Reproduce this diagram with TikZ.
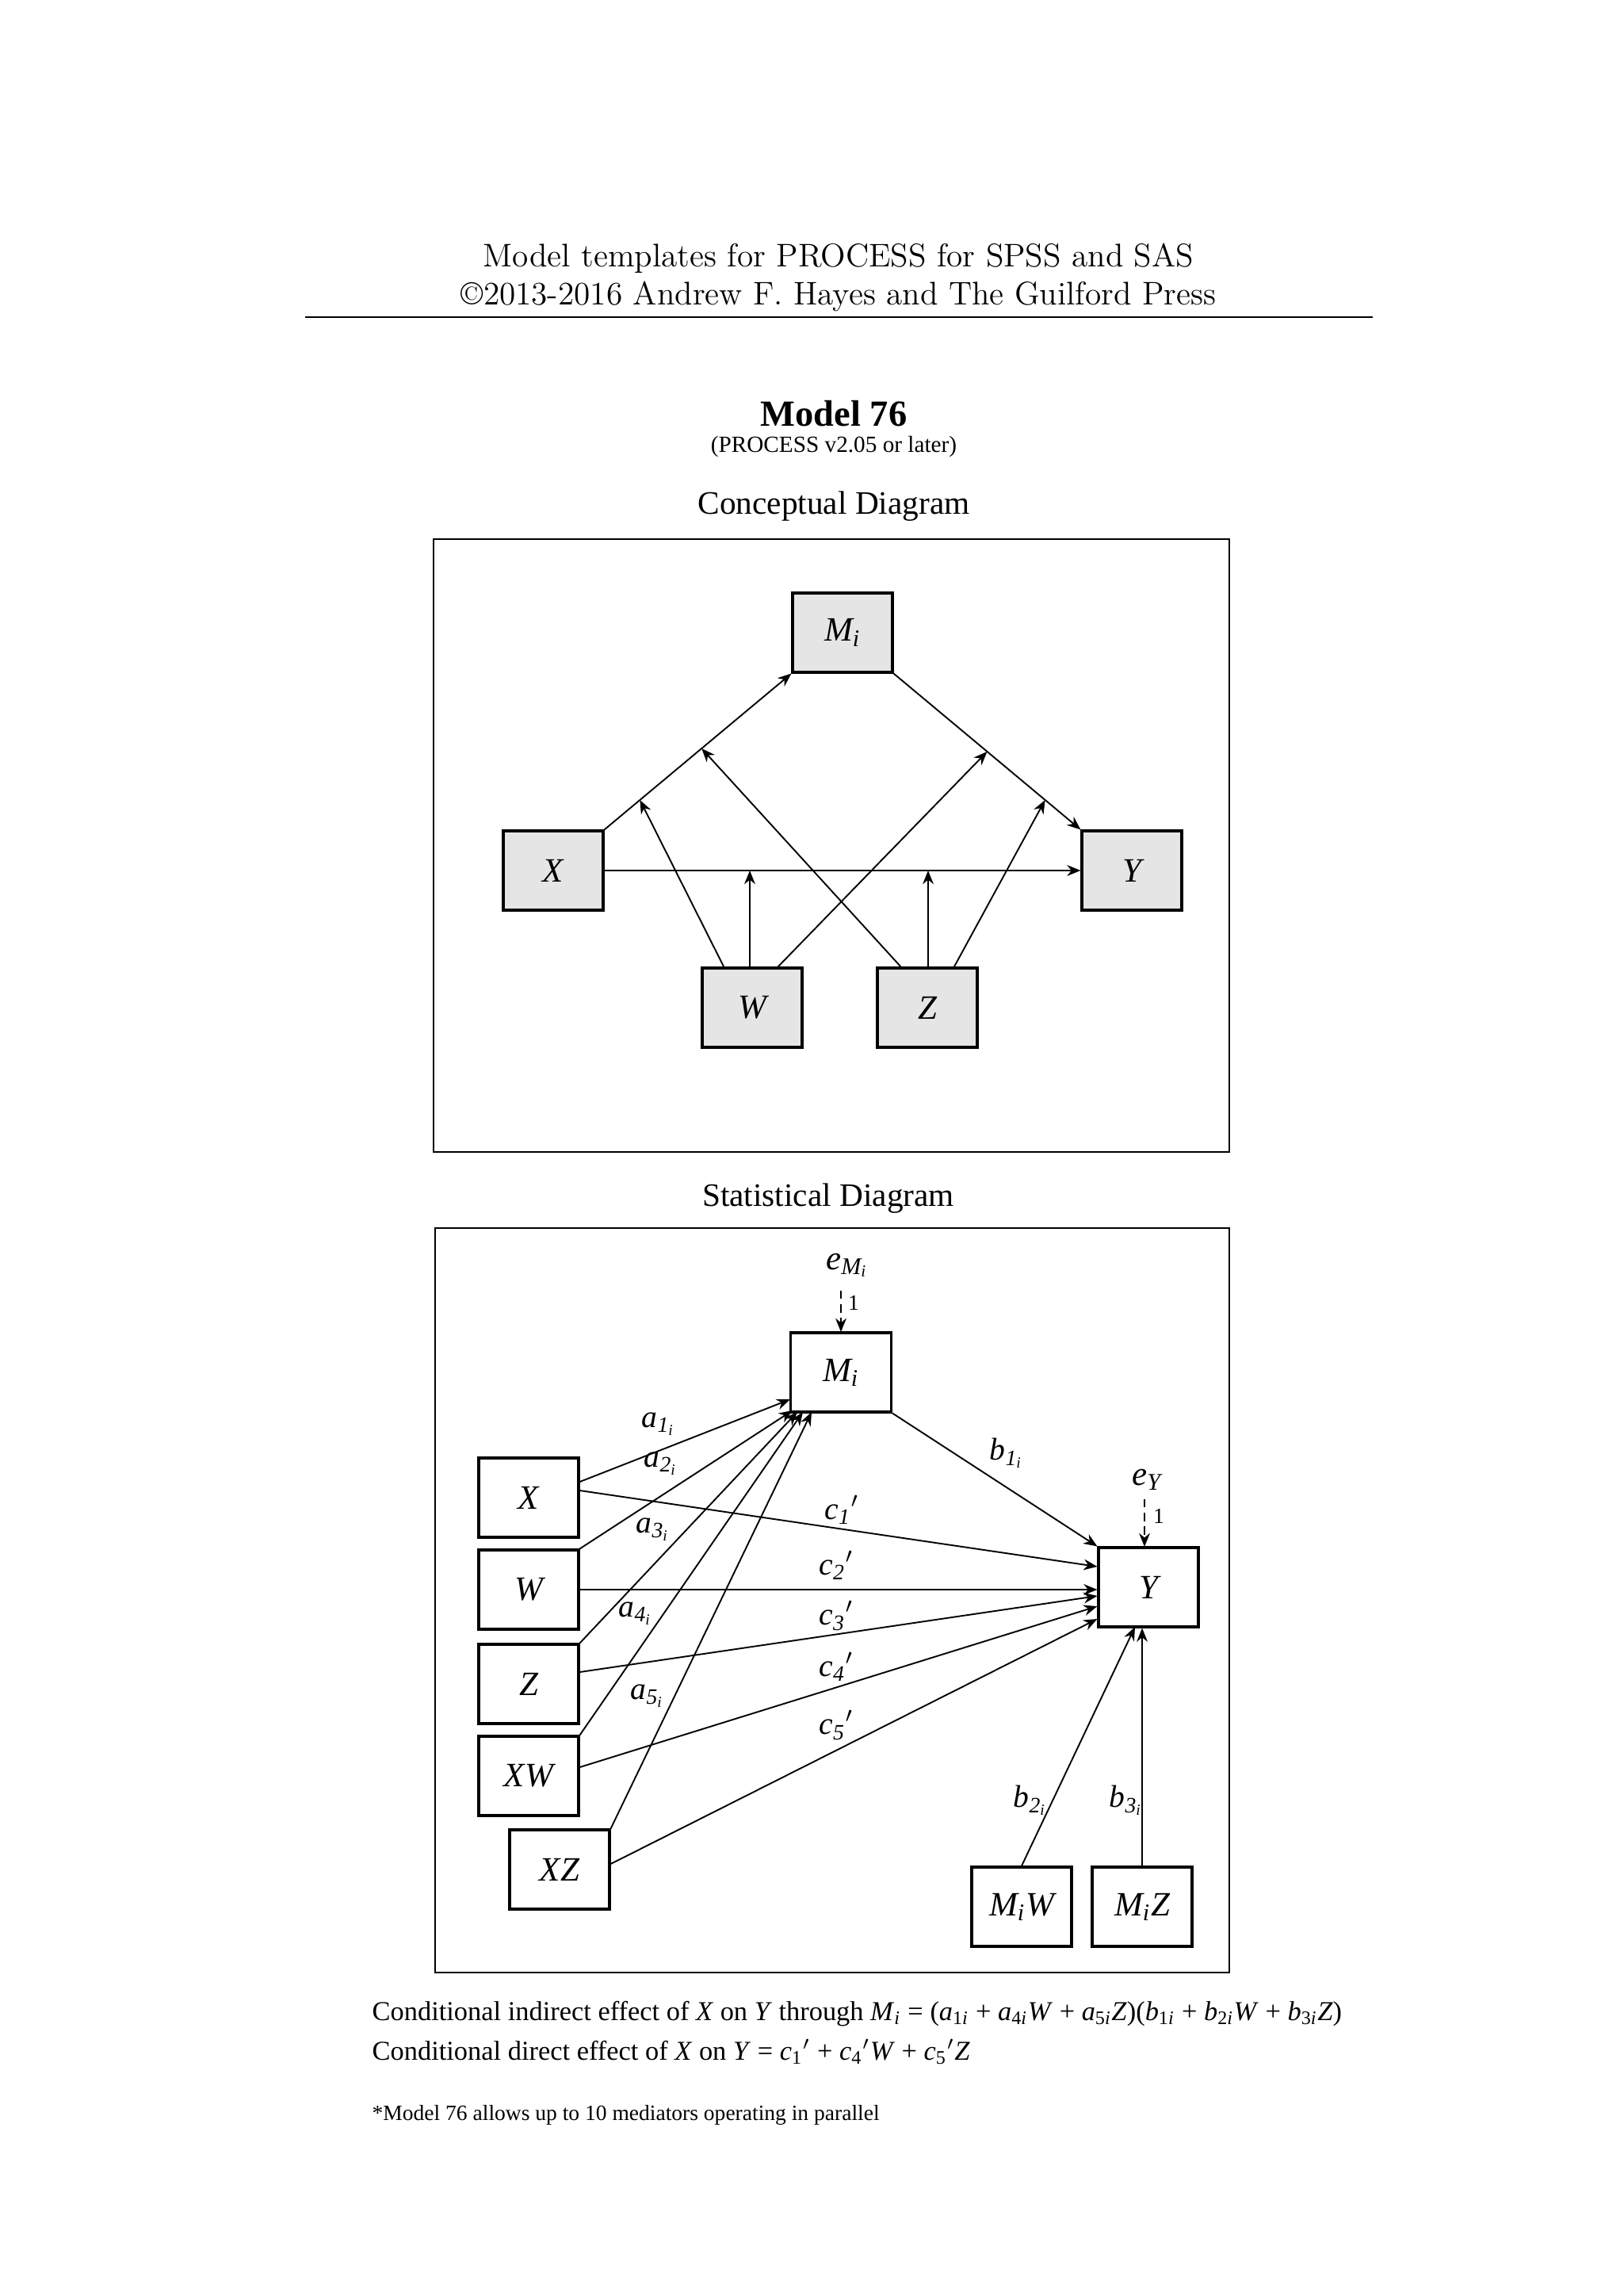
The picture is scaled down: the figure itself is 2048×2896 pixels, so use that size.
\documentclass[tikz,border=0pt]{standalone}
\usepackage{fontspec}
\newfontfamily\tms{Liberation Serif}
\usetikzlibrary{arrows.meta}
\newcommand{\iv}[1]{\textit{#1}}
\newcommand{\ssub}[1]{\textsubscript{#1}}
\begin{document}
\begin{tikzpicture}[x=0.2906pt,y=-0.2906pt,
  box/.style={draw,line width=0.9pt,minimum width=126*0.2906pt,minimum height=100*0.2906pt,inner sep=0pt,font=\tms\fontsize{12.5}{14}\selectfont\itshape},
  cbox/.style={box,fill=gray!20},
  arr/.style={line width=0.55pt,-{Stealth[length=5pt,width=4pt]}},
  lab/.style={font=\tms\fontsize{11.5}{13}\selectfont\itshape},
  dsh/.style={arr,dashed,dash pattern=on 3pt off 2pt}]
\useasboundingbox (0,0) rectangle (2048,2896);
% header
\node[font=\fontsize{12}{14}\selectfont] at (1058,326) {Model templates for PROCESS for SPSS and SAS};
\node[font=\fontsize{12}{14}\selectfont] at (1058,374) {\textcopyright 2013-2016 Andrew F. Hayes and The Guilford Press};
\draw[line width=0.5pt] (385,400) -- (1732,400);
\node[font=\tms\bfseries\fontsize{13.5}{15}\selectfont] at (1052,522) {Model 76};
\node[font=\tms\fontsize{8.5}{10}\selectfont] at (1052,563) {(PROCESS v2.05 or later)};
\node[font=\tms\fontsize{12}{14}\selectfont] at (1052,639) {Conceptual Diagram};
\draw[line width=0.6pt] (547,680) rectangle (1551,1453);
% conceptual
\node[cbox] (cM) at (1063,798) {M\ssub{i}};
\node[cbox] (cX) at (698,1098) {X};
\node[cbox] (cY) at (1428,1098) {Y};
\node[cbox] (cW) at (949,1271) {W};
\node[cbox] (cZ) at (1170,1271) {Z};
\draw[arr] (cX.north east) -- (cM.south west) coordinate[pos=0.19] (j1) coordinate[pos=0.52] (j2);
\draw[arr] (cM.south east) -- (cY.north west) coordinate[pos=0.50] (j3) coordinate[pos=0.81] (j4);
\draw[arr] (cX.east) -- (cY.west);
\coordinate (w1) at (914,1221);
\coordinate (w2) at (946,1221);
\coordinate (w3) at (980,1221);
\coordinate (z1) at (1138,1221);
\coordinate (z2) at (1171,1221);
\coordinate (z3) at (1203,1221);
\draw[arr] (w1) -- (j1);
\draw[arr] (w2) -- (w2 |- cX.east);
\draw[arr] (w3) -- (j3);
\draw[arr] (z1) -- (j2);
\draw[arr] (z2) -- (z2 |- cX.east);
\draw[arr] (z3) -- (j4);
% statistical
\node[font=\tms\fontsize{12}{14}\selectfont] at (1045,1512) {Statistical Diagram};
\draw[line width=0.6pt] (549,1549) rectangle (1551,2488);
\node[box,minimum width=127*0.2906pt] (M) at (1061,1731) {M\ssub{i}};
\node[box] (Y) at (1449,2002) {Y};
\node[box] (X) at (667,1889) {X};
\node[box] (W) at (667,2005) {W};
\node[box] (Z) at (667,2124) {Z};
\node[box] (XW) at (667,2240) {XW};
\node[box] (XZ) at (706,2358) {XZ};
\node[box] (MW) at (1289,2405) {M\ssub{i}W};
\node[box] (MZ) at (1441,2405) {M\ssub{i}Z};
\node[font=\tms\fontsize{12.5}{14}\selectfont\itshape] (eM) at (1069,1596) {e\ssub{M\ssub{i}}};
\draw[dsh] (1061,1628) -- (1061,1680);
\node[font=\tms\fontsize{8}{9}\selectfont] at (1077,1643) {1};
\node[font=\tms\fontsize{12.5}{14}\selectfont\itshape] (eY) at (1447,1866) {e\ssub{Y}};
\draw[dsh] (1444,1891) -- (1444,1951);
\node[font=\tms\fontsize{8}{9}\selectfont] at (1462,1912) {1};
% a paths
\draw[arr] (X.east |- 0,1869) -- (997,1765);
\draw[arr] (W.north east) -- (1000,1779);
\draw[arr] (Z.north east) -- (1006,1781);
\draw[arr] (XW.north east) -- (1013,1781);
\draw[arr] (XZ.north east) -- (1024,1781);
% c paths
\draw[arr] (X.east |- 0,1880) -- (Y.west |- 0,1976);
\draw[arr] (W.east) -- (Y.west |- 0,2005);
\draw[arr] (Z.east |- 0,2109) -- (Y.west |- 0,2013);
\draw[arr] (XW.east |- 0,2229) -- (Y.west |- 0,2026);
\draw[arr] (XZ.east |- 0,2351) -- (Y.west |- 0,2042);
% b paths
\draw[arr] (M.south east) -- (Y.north west);
\draw[arr] (MW.north) -- (1432,2052);
\draw[arr] (MZ.north) -- (MZ.north |- Y.south);
% labels
\node[lab] at (831,1796) {a\ssub{1\ssub{i}}};
\node[lab] at (834,1846) {a\ssub{2\ssub{i}}};
\node[lab] at (824,1929) {a\ssub{3\ssub{i}}};
\node[lab] at (802,2035) {a\ssub{4\ssub{i}}};
\node[lab] at (817,2139) {a\ssub{5\ssub{i}}};
\node[lab] at (1270,1833) {b\ssub{1\ssub{i}}};
\node[lab] at (1300,2271) {b\ssub{2\ssub{i}}};
\node[lab] at (1421,2271) {b\ssub{3\ssub{i}}};
\node[lab] at (1062,1904) {c\ssub{1}\/\textup{$'$}};
\node[lab] at (1055,1974) {c\ssub{2}\/\textup{$'$}};
\node[lab] at (1055,2038) {c\ssub{3}\/\textup{$'$}};
\node[lab] at (1055,2102) {c\ssub{4}\/\textup{$'$}};
\node[lab] at (1055,2176) {c\ssub{5}\/\textup{$'$}};
% bottom text
\node[anchor=west,inner sep=0pt,font=\tms\fontsize{10}{12}\selectfont] at (469,2540) {Conditional indirect effect of \iv{X} on \iv{Y} through \iv{M}\ssub{\iv{i}} = (\iv{a}\ssub{1\iv{i}} + \iv{a}\ssub{4\iv{i}}\iv{W} + \iv{a}\ssub{5\iv{i}}\iv{Z})(\iv{b}\ssub{1\iv{i}} + \iv{b}\ssub{2\iv{i}}\iv{W} + \iv{b}\ssub{3\iv{i}}\iv{Z})};
\node[anchor=west,inner sep=0pt,font=\tms\fontsize{10}{12}\selectfont] at (469,2588) {Conditional direct effect of \iv{X} on \iv{Y} = \iv{c}\ssub{1}$'$ + \iv{c}\ssub{4}$'$\iv{W} + \iv{c}\ssub{5}$'$\iv{Z}};
\node[anchor=west,inner sep=0pt,font=\tms\fontsize{8}{10}\selectfont] at (469,2668) {*Model 76 allows up to 10 mediators operating in parallel};
\end{tikzpicture}
\end{document}
